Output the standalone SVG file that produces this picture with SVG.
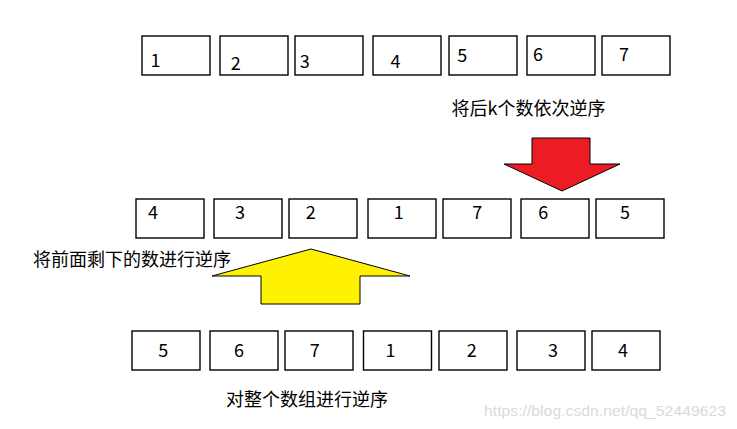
<svg xmlns="http://www.w3.org/2000/svg" width="737" height="429" viewBox="0 0 737 429">
<style>
.box{fill:#fff;stroke:#000;stroke-width:1.4}
.num{font-family:"Noto Sans CJK SC","Noto Sans",sans-serif;font-size:18px;fill:#000}
.lbl{font-family:"Noto Sans CJK SC","Noto Sans",sans-serif;font-size:18px;fill:#000}
.wm{font-family:"Liberation Sans",Arial,sans-serif;font-size:15px;fill:#dadada}
.red{fill:#ED1C24;stroke:#000;stroke-width:1}
.yel{fill:#FFF200;stroke:#000;stroke-width:1}
</style>
<rect width="737" height="429" fill="#fff"/>
<g id="row1">
<g id="r1n1"><rect class="box" x="142" y="36" width="68" height="39"/><text class="num" x="150.5" y="66.5">1</text></g>
<g id="r1n2"><rect class="box" x="220" y="36" width="68" height="39"/><text class="num" x="230.8" y="70">2</text></g>
<g id="r1n3"><rect class="box" x="295" y="36" width="68" height="39"/><text class="num" x="299.8" y="68.3">3</text></g>
<g id="r1n4"><rect class="box" x="373" y="36" width="68" height="39"/><text class="num" x="390.5" y="67.5">4</text></g>
<g id="r1n5"><rect class="box" x="449" y="36" width="68" height="39"/><text class="num" x="457.3" y="61.7">5</text></g>
<g id="r1n6"><rect class="box" x="527" y="36" width="68" height="39"/><text class="num" x="533" y="60.7">6</text></g>
<g id="r1n7"><rect class="box" x="602" y="36" width="68" height="39"/><text class="num" x="619" y="60.7">7</text></g>
</g>
<g id="label1"><text class="lbl" x="451.5" y="114.5">将后k个数依次逆序</text></g>
<g id="row2">
<g id="r2n4"><rect class="box" x="136" y="199" width="68" height="39"/><text class="num" x="148" y="219">4</text></g>
<g id="r2n3"><rect class="box" x="214" y="199" width="68" height="39"/><text class="num" x="235" y="219">3</text></g>
<g id="r2n2"><rect class="box" x="289" y="199" width="68" height="39"/><text class="num" x="305.8" y="219">2</text></g>
<g id="r2n1"><rect class="box" x="368" y="199" width="68" height="39"/><text class="num" x="393.8" y="219">1</text></g>
<g id="r2n7"><rect class="box" x="443" y="199" width="68" height="39"/><text class="num" x="472.3" y="219">7</text></g>
<g id="r2n6"><rect class="box" x="521" y="199" width="68" height="39"/><text class="num" x="538.3" y="219">6</text></g>
<g id="r2n5"><rect class="box" x="596" y="199" width="68" height="39"/><text class="num" x="620" y="219">5</text></g>
</g>
<g id="label2"><text class="lbl" x="33" y="265.5">将前面剩下的数进行逆序</text></g>
<g id="row3">
<g id="r3n5"><rect class="box" x="132" y="331" width="68" height="39"/><text class="num" x="158.3" y="357.3">5</text></g>
<g id="r3n6"><rect class="box" x="210" y="331" width="68" height="39"/><text class="num" x="234" y="357.3">6</text></g>
<g id="r3n7"><rect class="box" x="285" y="331" width="68" height="39"/><text class="num" x="309.7" y="357.3">7</text></g>
<g id="r3n1"><rect class="box" x="363.5" y="331" width="68" height="39"/><text class="num" x="385.5" y="357.3">1</text></g>
<g id="r3n2"><rect class="box" x="439" y="331" width="68" height="39"/><text class="num" x="466.7" y="357.3">2</text></g>
<g id="r3n3"><rect class="box" x="517" y="331" width="68" height="39"/><text class="num" x="548" y="357.3">3</text></g>
<g id="r3n4"><rect class="box" x="592" y="331" width="68" height="39"/><text class="num" x="618" y="357.3">4</text></g>
</g>
<g id="label3"><text class="lbl" x="226" y="405.5">对整个数组进行逆序</text></g>
<g id="connectors">
<polygon class="red" points="532,138 590,138 590,164 620,164 562,191 504,164 532,164"/>
<polygon class="yel" points="311,249 410,276 360,276 360,304 261,304 261,276 212,276"/>
</g>
<text class="wm" x="484" y="415.5" textLength="242" lengthAdjust="spacingAndGlyphs">https://blog.csdn.net/qq_52449623</text>
</svg>
